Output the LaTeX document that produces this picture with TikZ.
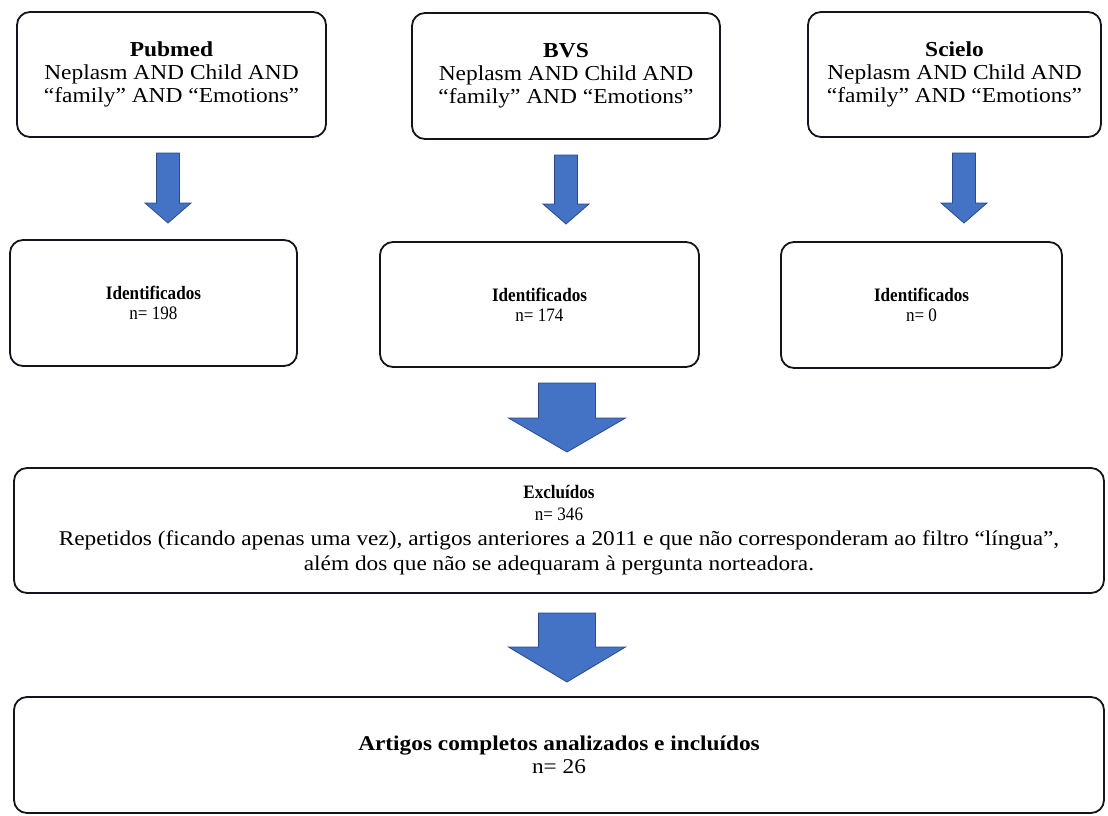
\documentclass[tikz,border=0pt]{standalone}
\usepackage{fontspec}
\setmainfont{Liberation Serif}
\newfontfamily\topfnt[FakeStretch=1.1]{Liberation Serif}
\newfontfamily\bigfnt[FakeStretch=1.11]{Liberation Serif}
\newfontfamily\midfnt[FakeStretch=0.9]{Liberation Serif}
\usetikzlibrary{calc}
\definecolor{boxline}{HTML}{14141E}
\definecolor{arrowblue}{HTML}{4472C4}
\definecolor{arrowedge}{HTML}{2A4A8A}
\newcommand{\blkarrow}[6]{%
  \draw[blockarrow] (#1-#3,#2) -- (#1+#3,#2) -- (#1+#3,#5) -- (#1+#4,#5) -- (#1,#6) -- (#1-#4,#5) -- (#1-#3,#5) -- cycle;}
\newcommand{\smalltxt}{\midfnt\fontsize{19}{20}\selectfont}
\begin{document}
\begin{tikzpicture}[x=1pt,y=-1pt,
  box/.style={draw=boxline, line width=1.8pt, rounded corners=13pt, fill=white, inner sep=0pt, align=center},
  topbox/.style={box, font={\topfnt\fontsize{21.3}{23}\selectfont}},
  midbox/.style={box, font={\smalltxt}},
  excbox/.style={box, font={\bigfnt\fontsize{21}{25}\selectfont}},
  incbox/.style={box, font={\bigfnt\fontsize{21}{23}\selectfont}},
  blockarrow/.style={fill=arrowblue, draw=arrowedge, line width=0.8pt, line join=miter}]
\useasboundingbox (0,0) rectangle (1108,816);
\fill[white] (0,0) rectangle (1108,816);

% top row
\node[topbox, minimum width=309pt, minimum height=125pt] (pub) at (171.5,74.5)
  {\textbf{Pubmed}\\Neplasm AND Child AND\\“family” AND “Emotions”};
\node[topbox, minimum width=308pt, minimum height=126pt] (bvs) at (566,76)
  {\textbf{BVS}\\Neplasm AND Child AND\\“family” AND “Emotions”};
\node[topbox, minimum width=293pt, minimum height=125pt] (sci) at (954.5,74.5)
  {\textbf{Scielo}\\Neplasm AND Child AND\\“family” AND “Emotions”};

% identified row
\node[midbox, minimum width=287pt, minimum height=126pt] (id1) at (153.5,303)
  {\textbf{Identificados}\\n= 198};
\node[midbox, minimum width=319pt, minimum height=125pt] (id2) at (539.5,304.5)
  {\textbf{Identificados}\\n= 174};
\node[midbox, minimum width=281pt, minimum height=126pt] (id3) at (921.5,305)
  {\textbf{Identificados}\\n= 0};

% excluded
\node[excbox, minimum width=1090pt, minimum height=125pt] (exc) at (559,530.5)
  {{\smalltxt\textbf{Excluídos}}\\[-3pt]{\smalltxt n= 346}\\Repetidos (ficando apenas uma vez), artigos anteriores a 2011 e que não corresponderam ao filtro “língua”,\\além dos que não se adequaram à pergunta norteadora.};

% included
\node[incbox, minimum width=1090pt, minimum height=116pt] (inc) at (559,755)
  {\textbf{Artigos completos analizados e incluídos}\\n= 26};

% arrows
\blkarrow{168}{153}{11.5}{23}{203}{223}
\blkarrow{566}{155}{11.5}{23}{204}{224}
\blkarrow{964}{153}{11.5}{23}{203}{223}
\blkarrow{567}{383}{28.5}{58.5}{418}{452}
\blkarrow{567}{613}{28.5}{58.5}{647}{682}
\end{tikzpicture}
\end{document}
